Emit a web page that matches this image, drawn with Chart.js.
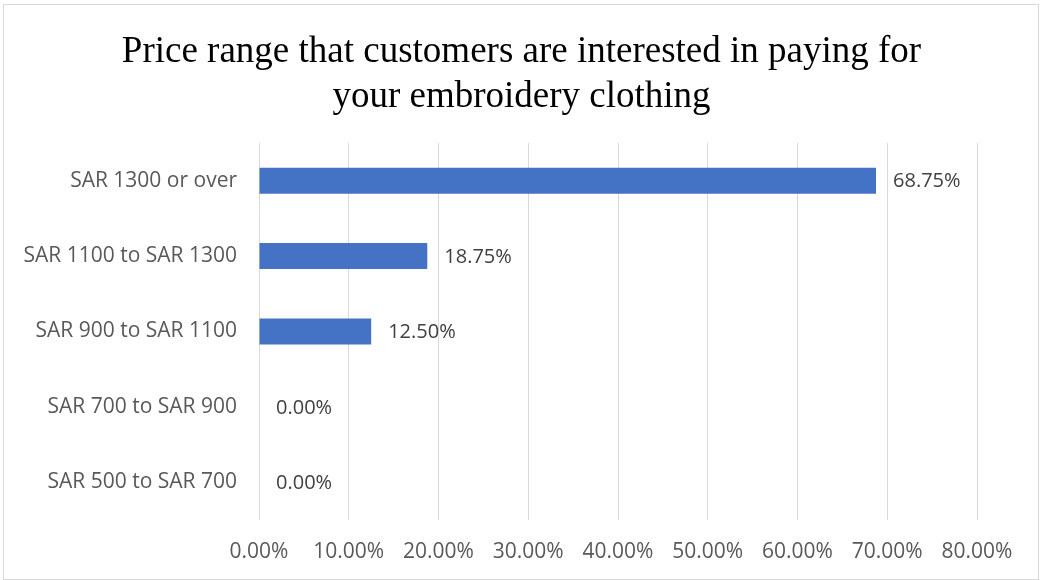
<!DOCTYPE html>
<html>
<head>
<meta charset="utf-8">
<script src="https://cdn.jsdelivr.net/npm/chart.js@4"></script>
<style>
  body { margin: 0; background: #fff; }
  #frame { position: absolute; left: 3px; top: 4px; width: 1034px; height: 574px; border: 1px solid #d9d9d9; }
  #wrap { position: absolute; left: 0; top: 0; }
</style>
</head>
<body>
<div id="frame"></div>
<div id="wrap"><canvas id="priceChart" width="1041" height="580"></canvas></div>
<script>
const titleLines = ['Price range that customers are interested in paying for', 'your embroidery clothing'];
const priceRanges = ['SAR 1300 or over', 'SAR 1100 to SAR 1300', 'SAR 900 to SAR 1100', 'SAR 700 to SAR 900', 'SAR 500 to SAR 700'];
const shares = [0.6875, 0.1875, 0.125, 0, 0];
const tickMax = 0.8;
const tickStep = 0.1;

const pct = v => (v * 100).toFixed(2) + '%';

// two-line heading, centred on the whole canvas rather than the plot
const heading = {
    id: 'heading',
    afterDraw(chart) {
        const ctx = chart.ctx;
        ctx.save();
        ctx.font = '37px "Liberation Serif"';
        ctx.fillStyle = '#000';
        ctx.textAlign = 'center';
        ctx.textBaseline = 'middle';
        titleLines.forEach((line, i) => ctx.fillText(line, chart.width / 2 + 1, 52 + i * 45));
        ctx.restore();
    }
};

// value labels to the right of each bar
const barLabels = {
    id: 'barLabels',
    afterDatasetsDraw(chart) {
        const ctx = chart.ctx;
        const meta = chart.getDatasetMeta(0);
        ctx.save();
        ctx.font = '20px "Open Sans"';
        ctx.fillStyle = '#404040';
        ctx.textBaseline = 'middle';
        ctx.textAlign = 'left';
        meta.data.forEach((bar, i) => {
            ctx.fillText(pct(shares[i]), bar.x + 17, bar.y + 1);
        });
        ctx.restore();
    }
};

new Chart(document.getElementById('priceChart'), {
    type: 'bar',
    data: {
        labels: priceRanges,
        datasets: [{
            data: shares,
            backgroundColor: '#4472c4',
            barPercentage: 0.69,
            categoryPercentage: 0.5
        }]
    },
    options: {
        indexAxis: 'y',
        responsive: false,
        animation: false,
        layout: { padding: { top: 143, right: 64, bottom: 0, left: 0 } },
        plugins: {
            legend: { display: false },
            tooltip: { enabled: false },
            title: { display: false }
        },
        scales: {
            x: {
                min: 0,
                max: tickMax,
                ticks: {
                    stepSize: tickStep,
                    callback: v => pct(v),
                    color: '#595959',
                    font: { family: 'Open Sans', size: 21 },
                    padding: 19,
                    maxRotation: 0
                },
                grid: { color: '#d9d9d9', lineWidth: 1, drawTicks: false },
                border: { display: false },
                afterFit(scale) { scale.height = 60; }
            },
            y: {
                ticks: {
                    color: '#595959',
                    font: { family: 'Open Sans', size: 21 },
                    padding: 22
                },
                grid: { display: false, drawTicks: false },
                border: { display: false },
                afterFit(scale) { scale.width = 259; }
            }
        }
    },
    plugins: [barLabels, heading]
});
</script>
</body>
</html>
